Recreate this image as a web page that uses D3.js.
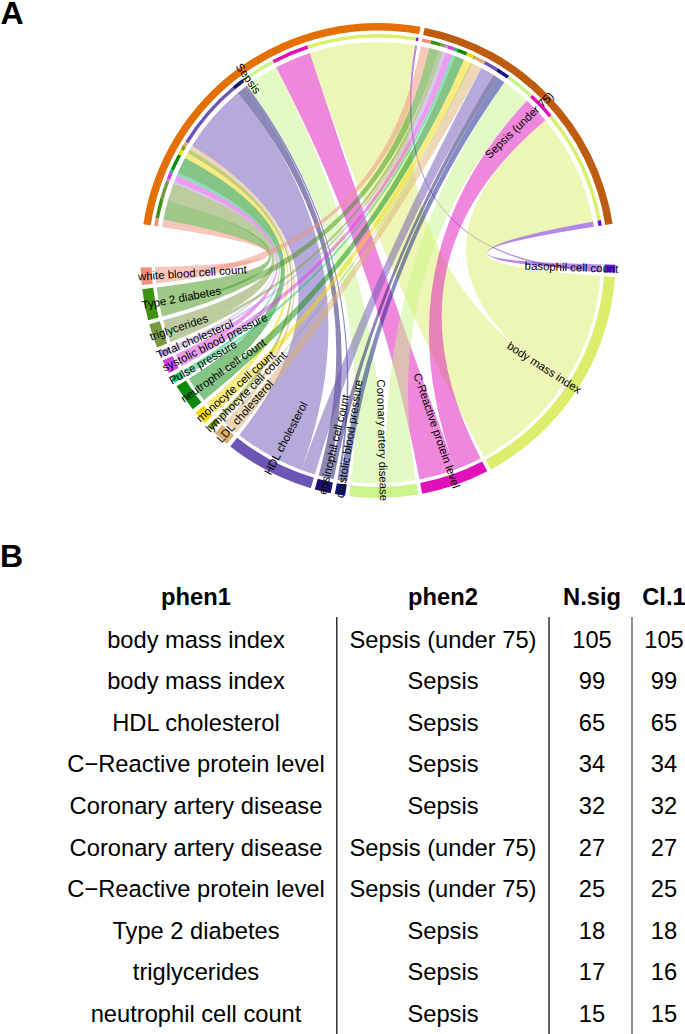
<!DOCTYPE html>
<html><head><meta charset="utf-8">
<script src="https://cdn.jsdelivr.net/npm/d3@7/dist/d3.min.js"></script>
<style>html,body{margin:0;padding:0;background:#fff}svg{display:block}text{font-family:"Liberation Sans",Arial,sans-serif;fill:#000}</style>
</head><body><svg id="c" width="685" height="1034"></svg>
<script>
// --- chord data (clockwise order, starting after the big left gap)
const hubs = ["Sepsis","Sepsis (under 75)"];
const hubColors = ["#e46f03","#bd5c0e"];
const phenotypes = ["basophil cell count","body mass index","C-Reactive protein level","Coronary artery disease","diastolic blood pressure","eosinophil cell count","HDL cholesterol","LDL cholesterol","lymphocyte cell count","monocyte cell count","neutrophil cell count","Pulse pressure","systolic blood pressure","Total cholesterol","triglycerides","Type 2 diabetes","white blood cell count"];
const phenoColors = ["#6a12d2","#dcee6c","#e010bb","#c9f58a","#0c1a86","#1c0f6c","#6d55b5","#dcb070","#7f9a00","#f5d800","#0a8a0a","#10c070","#d83ee0","#b48fe0","#7a9a42","#3f9114","#f08f7a"];
const toSepsis = [2,99,34,32,2,9,65,4,4,5,15,3,6,2,17,18,7];
const toUnder75 = [5,105,25,27,7,5,13,10,1,7,9,3,6,3,4,9,8];
// --- table data
const tableHeader = ["phen1","phen2","N.sig","Cl.1"];
const phen1 = ["body mass index","body mass index","HDL cholesterol","C\u2212Reactive protein level","Coronary artery disease","Coronary artery disease","C\u2212Reactive protein level","Type 2 diabetes","triglycerides","neutrophil cell count"];
const phen2 = ["Sepsis (under 75)","Sepsis","Sepsis","Sepsis","Sepsis","Sepsis (under 75)","Sepsis (under 75)","Sepsis","Sepsis","Sepsis"];
const nSig = [105,99,65,34,32,27,25,18,17,15];
const cl1 = [105,99,65,34,32,27,25,18,16,15];

const svg = d3.select("#c");
const rad = d => d*Math.PI/180;
const cx=378, cy=260.5;
const R = {outer:237.5, hubInner:230, thinOuter:226.5, thinInner:223, hubRibbon:218.5, sectorInner:226.5, sectorRibbon:223, label:240.5};
const START=278.8, gapRight=9.9, gapLeft=10.5, gap=1.0;
const sumS=d3.sum(toSepsis), sumU=d3.sum(toUnder75), total=2*(sumS+sumU);
const sweep=d3.scaleLinear().domain([0,total]).range([0,360-gapRight-gapLeft-(hubs.length+phenotypes.length-2)*gap]);

// layout
let a=START;
const hubA=[], phenA=[];
hubA.push([a,a+sweep(sumS)]); a+=sweep(sumS)+gap;
hubA.push([a,a+sweep(sumU)]); a+=sweep(sumU)+gapRight;
phenotypes.forEach((p,i)=>{const w=sweep(toSepsis[i]+toUnder75[i]); phenA.push([a,a+w]); a+=w+gap;});

const g=svg.append("g").attr("transform",`translate(${cx},${cy})`);
const arc=d3.arc();
const ribbon=d3.ribbon().radius(d=>d.r).startAngle(d=>rad(d.a0)).endAngle(d=>rad(d.a1));

const links=[];
let sCur=hubA[0][0], uCur=hubA[1][0];
phenotypes.forEach((p,i)=>{
  const w0=sweep(toUnder75[i]), w1=sweep(toSepsis[i]);
  const [p0]=phenA[i];
  links.push({i,hub:1,source:{a0:p0,a1:p0+w0,r:R.sectorRibbon},target:{a0:0,a1:0,r:R.hubRibbon}});
  links.push({i,hub:0,source:{a0:p0+w0,a1:p0+w0+w1,r:R.sectorRibbon},target:{a0:0,a1:0,r:R.hubRibbon}});
});
// hub slots follow the reverse phenotype order clockwise
const rev=d3.range(phenotypes.length).reverse();
rev.forEach(i=>{
  const ls=links.find(l=>l.i===i&&l.hub===0), lu=links.find(l=>l.i===i&&l.hub===1);
  const ws=sweep(toSepsis[i]), wu=sweep(toUnder75[i]);
  ls.target.a0=sCur; ls.target.a1=sCur+ws; sCur+=ws;
  lu.target.a0=uCur; lu.target.a1=uCur+wu; uCur+=wu;
});

g.append("g").selectAll("path").data(links).join("path")
  .attr("d",ribbon).attr("fill",d=>phenoColors[d.i]).attr("fill-opacity",0.5);

// hub rings
g.append("g").selectAll("path").data(hubs).join("path")
  .attr("d",(d,i)=>arc({innerRadius:R.hubInner,outerRadius:R.outer,startAngle:rad(hubA[i][0]),endAngle:rad(hubA[i][1])}))
  .attr("fill",(d,i)=>hubColors[i]);
// thin rings
g.append("g").selectAll("path").data(links).join("path")
  .attr("d",d=>arc({innerRadius:R.thinInner,outerRadius:R.thinOuter,startAngle:rad(d.target.a0),endAngle:rad(d.target.a1)}))
  .attr("fill",d=>phenoColors[d.i]);
// sector rings
g.append("g").selectAll("path").data(phenotypes).join("path")
  .attr("d",(d,i)=>arc({innerRadius:R.sectorInner,outerRadius:R.outer,startAngle:rad(phenA[i][0]),endAngle:rad(phenA[i][1])}))
  .attr("fill",(d,i)=>phenoColors[i]);

// labels
const labels=hubs.map((n,i)=>({n,m:(hubA[i][0]+hubA[i][1])/2})).concat(phenotypes.map((n,i)=>({n,m:(phenA[i][0]+phenA[i][1])/2})));
g.append("g").selectAll("text").data(labels).join("text")
  .text(d=>d.n).attr("font-size",11.4).attr("dy","0.35em")
  .attr("transform",d=>{
    const m=(d.m%360+360)%360;
    return m<180?`rotate(${m-90}) translate(${R.label},0)`:`rotate(${m+90}) translate(${-R.label},0)`;
  })
  .attr("text-anchor",d=>{const m=(d.m%360+360)%360;return m<180?"end":"start";});

// panel letters
svg.append("text").text("A").attr("x",0.5).attr("y",23.5).attr("font-size",32).attr("font-weight","bold");
svg.append("text").text("B").attr("x",0).attr("y",567).attr("font-size",32).attr("font-weight","bold");

// table
const colX=[196,443,592,664];
const y=d3.scalePoint().domain(d3.range(phen1.length)).range([647.5,1022]);
const t=svg.append("g").attr("font-size",23.7);
tableHeader.forEach((h,j)=>t.append("text").text(h).attr("x",colX[j]).attr("y",605).attr("text-anchor","middle").attr("font-weight","bold"));
[phen1,phen2,nSig,cl1].forEach((col,j)=>{
  t.append("g").selectAll("text").data(col).join("text").text(d=>d)
   .attr("x",colX[j]).attr("y",(d,i)=>y(i)).attr("text-anchor","middle");
});
[[336.8,"#111"],[549,"#111"],[632,"#555"]].forEach(([x,c])=>svg.append("line").attr("x1",x).attr("x2",x).attr("y1",617).attr("y2",1034).attr("stroke",c).attr("stroke-width",1.3));
</script></body></html>
